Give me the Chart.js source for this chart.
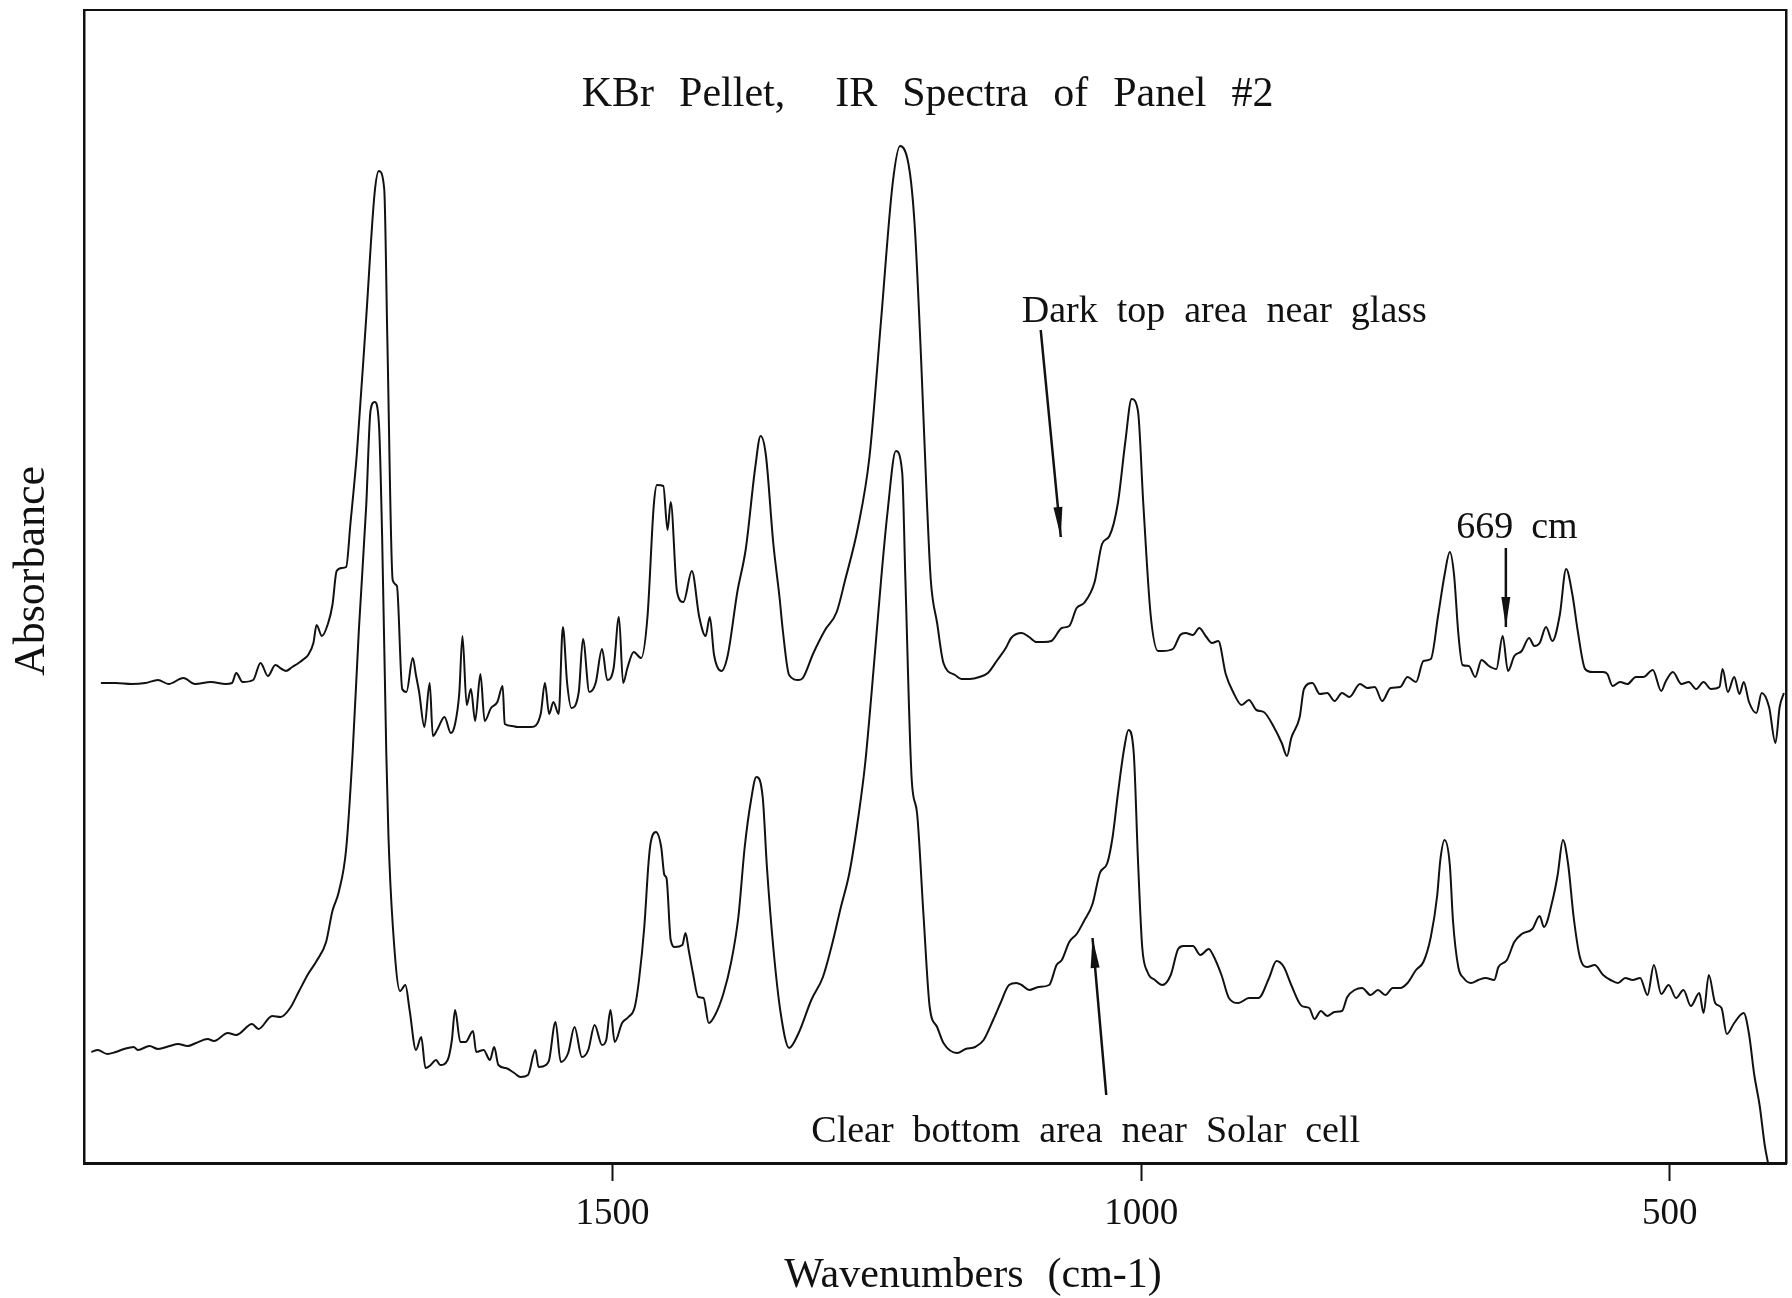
<!DOCTYPE html>
<html>
<head>
<meta charset="utf-8">
<title>KBr Pellet, IR Spectra of Panel #2</title>
<script src="https://cdn.jsdelivr.net/npm/chart.js@4.4.1/dist/chart.umd.min.js"></script>
<style>
  html, body { margin:0; padding:0; background:#fff; }
  #wrap { width:1792px; height:1298px; position:relative; }
</style>
</head>
<body>
<div id="wrap"><canvas id="spectra"></canvas></div>
<script>

// ============================
// DATA (absorbance in arbitrary units)
// ============================

const xTicks = [1500, 1000, 500];

// Dark top area near glass
const topWavenumbers = [
  1984,1970,1955,1942,1930,1920,1906,1895,1880,1866,1860,1856,1850,1840,1833,1826,1819,1813,1809,1803,
  1797,1792,1788,1783,1780,1775,1769,1765,1761,1756,1752,1748,1742,1733,1725,1721,1716,1713,1708,1704,
  1699,1695,1689,1686,1683,1678,1673,1670,1666,1659,1653,1649,1645,1642,1638,1634,1630,1625,1621,1615,
  1609,1604,1602,1595,1590,1577,1568,1564,1560,1556,1551,1547,1543,1539,1532,1528,1522,1516,1510,1505,
  1499,1494,1490,1486,1480,1473,1467,1461,1458,1452,1448,1445,1439,1433,1425,1418,1412,1408,1404,1397,
  1391,1382,1374,1365,1360,1355,1348,1342,1339,1333,1324,1320,1310,1299,1288,1280,1268,1257,1246,1235,
  1228,1219,1214,1208,1203,1199,1193,1187,1176,1170,1162,1153,1145,1136,1128,1123,1113,1106,1099,1092,
  1085,1075,1068,1061,1054,1044,1037,1030,1022,1015,1009,1003,998,991,984,980,970,963,958,951,
  945,939,933,927,920,913,905,898,891,884,874,867,862,858,850,846,838,831,824,817,
  810,803,793,786,779,772,764,755,748,740,733,726,719,713,708,704,700,696,690,684,
  678,671,664,658,653,647,640,633,628,623,617,611,604,598,592,587,580,573,563,559,
  554,547,540,532,525,516,508,504,497,489,482,475,468,461,453,450,445,439,434,430,
  425,418,413,406,400,396,392
];
const topAbsorbance = [
  .480,.480,.479,.480,.483,.479,.485,.479,.481,.479,.480,.490,.481,.483,.500,.487,.498,.494,.492,.496,
  .500,.504,.508,.520,.538,.527,.540,.558,.592,.595,.596,.639,.708,.846,.971,.992,.974,.821,.583,.577,
  .474,.471,.505,.488,.471,.436,.480,.427,.433,.446,.430,.439,.470,.527,.458,.474,.442,.489,.442,.455,
  .461,.477,.439,.437,.436,.436,.449,.480,.449,.461,.449,.536,.480,.455,.471,.524,.471,.480,.514,.483,
  .495,.546,.480,.495,.511,.505,.546,.658,.678,.677,.633,.661,.571,.561,.592,.546,.527,.546,.508,.492,
  .508,.571,.614,.696,.727,.708,.620,.565,.533,.488,.483,.485,.510,.533,.551,.583,.635,.706,.843,.980,
  1.017,.992,.934,.800,.670,.583,.540,.500,.488,.484,.484,.486,.490,.503,.515,.525,.530,.526,.521,.521,
  .522,.535,.537,.555,.560,.581,.619,.627,.660,.721,.764,.752,.660,.548,.512,.512,.514,.528,.530,.528,
  .535,.527,.520,.522,.489,.471,.458,.463,.453,.451,.435,.420,.407,.425,.446,.474,.480,.469,.470,.462,
  .470,.466,.479,.475,.476,.462,.475,.476,.486,.481,.502,.504,.548,.588,.611,.588,.530,.498,.497,.486,
  .503,.497,.494,.527,.492,.507,.512,.525,.517,.520,.536,.522,.548,.594,.568,.532,.494,.491,.491,.489,
  .477,.481,.479,.486,.486,.493,.472,.481,.491,.479,.481,.474,.481,.474,.476,.494,.471,.486,.469,.481,
  .461,.450,.470,.456,.420,.456,.470
];

// Clear bottom area near Solar cell
const bottomWavenumbers = [
  1993,1987,1978,1970,1962,1953,1949,1938,1930,1919,1911,1902,1894,1883,1877,1864,1856,1841,1835,1822,
  1814,1805,1797,1788,1780,1771,1765,1759,1752,1746,1740,1733,1729,1725,1721,1718,1714,1712,1708,1701,
  1696,1692,1686,1681,1677,1672,1667,1663,1656,1652,1649,1644,1639,1632,1629,1622,1616,1612,1608,1601,
  1593,1587,1580,1573,1570,1563,1560,1554,1549,1542,1536,1529,1523,1517,1510,1506,1502,1498,1491,1485,
  1479,1475,1470,1466,1464,1459,1454,1451,1449,1445,1441,1434,1431,1428,1424,1419,1414,1409,1403,1395,
  1388,1381,1375,1369,1364,1358,1354,1348,1341,1333,1324,1312,1301,1293,1284,1276,1267,1261,1255,1250,
  1246,1240,1232,1226,1223,1217,1212,1206,1200,1193,1187,1174,1166,1157,1149,1140,1133,1125,1118,1113,
  1106,1097,1087,1080,1075,1068,1061,1054,1046,1039,1032,1027,1022,1016,1012,1007,1003,999,994,987,
  980,972,965,960,951,944,936,932,924,917,908,898,889,879,872,865,858,848,841,836,
  830,824,817,810,805,798,791,783,776,769,762,755,748,740,733,726,720,717,713,708,
  705,700,695,688,681,674,666,662,654,647,640,630,623,619,611,606,601,596,591,585,
  578,571,563,556,549,542,535,528,521,515,508,501,494,487,480,472,468,463,457,451,
  446,439,430,425,420,415,410,407
];
const bottomAbsorbance = [
  .111,.113,.109,.111,.114,.116,.113,.117,.114,.117,.119,.117,.120,.124,.122,.130,.128,.139,.134,.147,
  .146,.155,.171,.189,.202,.221,.252,.271,.314,.408,.533,.658,.752,.761,.739,.627,.408,.327,.239,.172,
  .178,.153,.113,.126,.095,.098,.103,.098,.103,.123,.153,.121,.121,.132,.111,.113,.103,.116,.098,.095,
  .090,.086,.088,.113,.096,.098,.103,.141,.101,.110,.136,.106,.113,.138,.118,.123,.153,.121,.140,.146,
  .156,.183,.236,.300,.320,.331,.316,.288,.285,.223,.216,.218,.230,.213,.190,.166,.165,.140,.148,.170,
  .200,.246,.316,.363,.386,.366,.296,.216,.150,.115,.130,.163,.186,.216,.256,.290,.350,.400,.470,.533,
  .583,.650,.712,.690,.583,.383,.350,.250,.156,.136,.120,.110,.114,.116,.123,.143,.160,.178,.180,.178,
  .173,.176,.178,.198,.203,.221,.229,.242,.259,.290,.300,.326,.369,.415,.433,.410,.303,.216,.191,.183,
  .178,.188,.214,.217,.217,.208,.214,.208,.188,.165,.160,.165,.165,.185,.202,.196,.178,.157,.155,.144,
  .152,.147,.151,.152,.166,.173,.175,.168,.173,.168,.175,.175,.180,.193,.201,.226,.267,.303,.323,.298,
  .242,.196,.185,.180,.183,.185,.183,.196,.203,.221,.229,.234,.247,.236,.262,.288,.323,.298,.247,.206,
  .196,.198,.188,.183,.180,.185,.183,.185,.168,.198,.169,.178,.165,.173,.157,.170,.150,.188,.160,.155,
  .129,.140,.150,.129,.088,.058,.017,.000
];

// text labels and pointer arrows, placed in data units (wavenumber, absorbance)
const notes = [
  { text:"KBr Pellet,  IR Spectra of Panel #2", wn:1202, abs:1.057, size:42, align:"center", gap:25 },
  { text:"Dark top area near glass", wn:1113, abs:0.841, size:38, align:"left", gap:19 },
  { text:"669 cm", wn:702, abs:0.625, size:38, align:"left", gap:18 },
  { text:"Clear bottom area near Solar cell", wn:1312, abs:0.021, size:38, align:"left", gap:19 },
  { text:"Wavenumbers (cm-1)", wn:1159, abs:-0.124, size:42, align:"center", gap:24 }
];
const yTitle = { text:"Absorbance", wn:2049, abs:0.592, size:44 };

const pointers = [
  { from:[1095, 0.833], to:[1076, 0.626] },
  { from:[655, 0.615], to:[655, 0.536] },
  { from:[1033, 0.068], to:[1046, 0.225] }
];

const FONT = '"Liberation Serif", "Times New Roman", serif';
const INK = "#111";


// ============================
// HELPERS
// ============================

function toPoints(xs, ys){
  return xs.map((x,i)=>({ x:x, y:ys[i] }));
}

// words drawn one by one so the typewriter-like gaps match
function spacedText(ctx, text, x, y, gap, align){
  const words = text.split(" ");
  const widths = words.map(w=>ctx.measureText(w).width);
  const total = widths.reduce((a,b)=>a+b,0) + gap*(words.length-1);
  let cx = align === "center" ? x - total/2 : x;
  ctx.textAlign = "left";
  words.forEach((w,i)=>{
    if(w) ctx.fillText(w, cx, y);
    cx += widths[i] + gap;
  });
}

function drawArrow(ctx, x1, y1, x2, y2){
  ctx.beginPath();
  ctx.moveTo(x1,y1);
  ctx.lineTo(x2,y2);
  ctx.stroke();

  const ang = Math.atan2(y2-y1, x2-x1);
  const len = 30, half = 4.5;
  const bx = x2 - len*Math.cos(ang);
  const by = y2 - len*Math.sin(ang);
  ctx.beginPath();
  ctx.moveTo(x2,y2);
  ctx.lineTo(bx + half*Math.sin(ang), by - half*Math.cos(ang));
  ctx.lineTo(bx - half*Math.sin(ang), by + half*Math.cos(ang));
  ctx.closePath();
  ctx.fill();
}

const annotationPlugin = {
  id:"annotations",
  afterDraw(chart){
    const ctx = chart.ctx;
    const xs = chart.scales.x;
    const ys = chart.scales.y;

    ctx.save();
    ctx.fillStyle = INK;
    ctx.strokeStyle = INK;
    ctx.textBaseline = "alphabetic";

    notes.forEach(n=>{
      ctx.font = `${n.size}px ${FONT}`;
      spacedText(ctx, n.text, xs.getPixelForValue(n.wn), ys.getPixelForValue(n.abs), n.gap, n.align);
    });

    // y axis title
    ctx.save();
    ctx.translate(xs.getPixelForValue(yTitle.wn), ys.getPixelForValue(yTitle.abs));
    ctx.rotate(-Math.PI/2);
    ctx.font = `${yTitle.size}px ${FONT}`;
    ctx.textAlign = "center";
    ctx.textBaseline = "middle";
    ctx.fillText(yTitle.text, 0, 0);
    ctx.restore();

    ctx.lineWidth = 2.5;
    pointers.forEach(p=>{
      drawArrow(ctx,
        xs.getPixelForValue(p.from[0]), ys.getPixelForValue(p.from[1]),
        xs.getPixelForValue(p.to[0]), ys.getPixelForValue(p.to[1]));
    });

    ctx.restore();
  }
};


// ============================
// CHART
// ============================

const lineStyle = {
  borderColor:INK,
  borderWidth:2,
  pointRadius:0,
  cubicInterpolationMode:"monotone",
  fill:false
};

new Chart(document.getElementById("spectra"),{
  type:"line",
  data:{
    datasets:[
      { label:"Dark top area near glass", data:toPoints(topWavenumbers, topAbsorbance), ...lineStyle },
      { label:"Clear bottom area near Solar cell", data:toPoints(bottomWavenumbers, bottomAbsorbance), ...lineStyle }
    ]
  },
  options:{
    responsive:true,
    maintainAspectRatio:false,
    animation:false,
    devicePixelRatio:1,
    layout:{ padding:0 },
    plugins:{
      legend:{ display:false },
      tooltip:{ enabled:false },
      title:{ display:false }
    },
    scales:{
      x:{
        type:"linear",
        position:"bottom",
        reverse:true,
        min:390,
        max:2000,
        afterFit:s=>{ s.height = 135; },
        afterBuildTicks:s=>{ s.ticks = xTicks.map(v=>({ value:v })); },
        ticks:{
          font:{ family:FONT, size:37 },
          color:INK,
          padding:11,
          maxRotation:0,
          autoSkip:false,
          callback:v=>String(v)
        },
        grid:{ drawOnChartArea:false, drawTicks:true, tickLength:18, tickWidth:2, tickColor:INK },
        border:{ display:true, color:INK, width:3 }
      },
      xTop:{
        type:"linear",
        position:"top",
        reverse:true,
        min:390,
        max:2000,
        afterFit:s=>{ s.height = 10; },
        ticks:{ display:false },
        grid:{ drawOnChartArea:false, drawTicks:false },
        border:{ display:true, color:INK, width:2 }
      },
      y:{
        type:"linear",
        position:"left",
        min:0,
        max:1.153,
        afterFit:s=>{ s.width = 84; },
        ticks:{ display:false },
        grid:{ drawOnChartArea:false, drawTicks:false },
        border:{ display:true, color:INK, width:2.5 }
      },
      yRight:{
        type:"linear",
        position:"right",
        min:0,
        max:1.153,
        afterFit:s=>{ s.width = 6; },
        ticks:{ display:false },
        grid:{ drawOnChartArea:false, drawTicks:false },
        border:{ display:true, color:INK, width:2.5 }
      }
    }
  },
  plugins:[annotationPlugin]
});
</script>
</body>
</html>
